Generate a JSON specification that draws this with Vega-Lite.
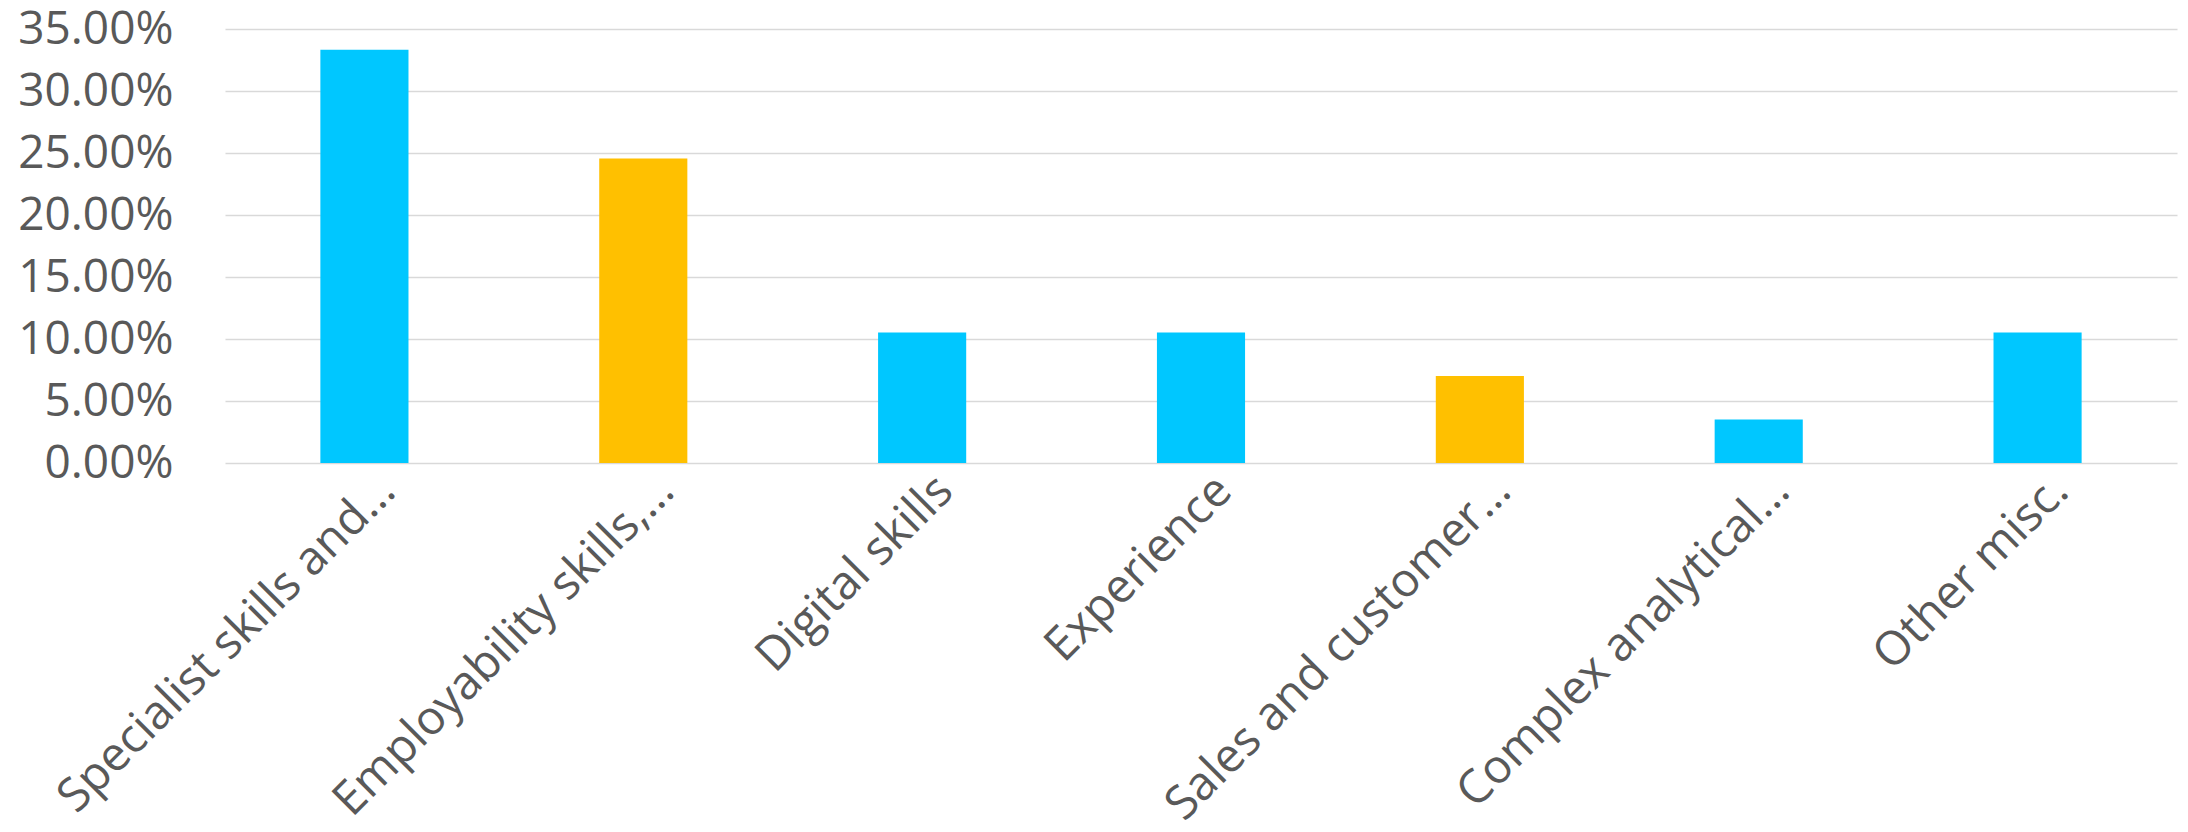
{
  "$schema": "https://vega.github.io/schema/vega-lite/v6.json",
  "autosize": {"type": "none"},
  "padding": {"left": 225, "top": 29, "right": 11, "bottom": 369},
  "width": 1952,
  "height": 434,
  "background": "white",
  "data": {
    "values": [
      {"category": "Specialist skills and…", "share": 0.3333, "highlight": "no"},
      {"category": "Employability skills,…", "share": 0.2456, "highlight": "yes"},
      {"category": "Digital skills", "share": 0.1053, "highlight": "no"},
      {"category": "Experience", "share": 0.1053, "highlight": "no"},
      {"category": "Sales and customer…", "share": 0.0702, "highlight": "yes"},
      {"category": "Complex analytical…", "share": 0.0351, "highlight": "no"},
      {"category": "Other misc.", "share": 0.1053, "highlight": "no"}
    ]
  },
  "mark": {"type": "bar"},
  "encoding": {
    "x": {
      "field": "category",
      "type": "nominal",
      "sort": null,
      "scale": {"paddingInner": 0.684, "paddingOuter": 0.342},
      "axis": {
        "title": null,
        "labelAngle": -45,
        "labelAlign": "right",
        "labelBaseline": "top",
        "labelPadding": 4,
        "labelOffset": 7,
        "labelFont": "Open Sans",
        "labelFontSize": 47,
        "labelColor": "#595959",
        "labelLimit": 0,
        "ticks": false,
        "tickSize": 0,
        "domain": false
      }
    },
    "y": {
      "field": "share",
      "type": "quantitative",
      "scale": {"domain": [0, 0.35], "nice": false},
      "axis": {
        "title": null,
        "values": [0, 0.05, 0.1, 0.15, 0.2, 0.25, 0.3, 0.35],
        "format": ".2%",
        "labelFont": "Open Sans",
        "labelFontSize": 46,
        "labelColor": "#595959",
        "labelPadding": 52,
        "ticks": false,
        "tickSize": 0,
        "domain": false,
        "grid": true,
        "gridColor": "#D9D9D9",
        "gridWidth": 1.5
      }
    },
    "color": {
      "field": "highlight",
      "type": "nominal",
      "scale": {"domain": ["no", "yes"], "range": ["#00C7FF", "#FFC000"]},
      "legend": null
    }
  },
  "config": {"view": {"stroke": null}}
}
